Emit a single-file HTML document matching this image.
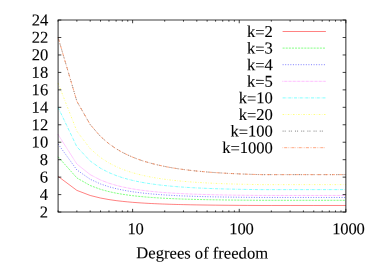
<!DOCTYPE html>
<html><head><meta charset="utf-8"><title>plot</title>
<style>
html,body{margin:0;padding:0;background:#fff;}
body{width:374px;height:262px;position:relative;overflow:hidden;}
svg{display:block;position:absolute;left:0;top:0;will-change:transform;}
svg text{text-rendering:geometricPrecision;font-family:"Liberation Serif",serif;font-size:16.6px;fill:#000;stroke:#000;stroke-width:0.1px;}
svg text.nm{letter-spacing:-0.18px;}
svg text.lg{letter-spacing:-0.1px;}
</style></head><body>
<svg width="374" height="262" viewBox="0 0 374 262">
<rect width="374" height="262" fill="#fff"/>
<path d="M58.10,176.40 L76.87,190.39 L90.19,195.47 L100.53,198.04 L108.97,199.58 L116.11,200.61 L122.29,201.34 L127.74,201.89 L132.62,202.32 L137.03,202.65 L141.06,202.93 L144.77,203.16 L148.20,203.36 L151.39,203.52 L154.38,203.67 L157.19,203.79 L159.84,203.90 L162.34,204.00 L164.71,204.09 L166.97,204.17 L169.13,204.24 L171.19,204.31 L173.16,204.37 L175.05,204.42 L176.86,204.47 L178.61,204.52 L180.29,204.56 L181.92,204.60 L183.49,204.64 L190.63,204.79 L196.81,204.90 L207.14,205.06 L215.58,205.16 L228.90,205.29 L239.24,205.37 L247.68,205.42 L261.00,205.48 L271.33,205.48 L290.10,205.48 L313.76,205.48 L345.85,205.48" fill="none" stroke="#ff0000" stroke-width="0.58" stroke-opacity="0.85"/>
<path d="M58.10,156.80 L76.87,177.93 L90.19,185.52 L100.53,189.34 L108.97,191.64 L116.11,193.16 L122.29,194.24 L127.74,195.04 L132.62,195.67 L137.03,196.17 L141.06,196.58 L144.77,196.92 L148.20,197.20 L151.39,197.45 L154.38,197.66 L157.19,197.84 L159.84,198.01 L162.34,198.15 L164.71,198.28 L166.97,198.40 L169.13,198.50 L171.19,198.60 L173.16,198.68 L175.05,198.76 L176.86,198.84 L178.61,198.90 L180.29,198.97 L181.92,199.02 L183.49,199.08 L190.63,199.30 L196.81,199.46 L207.14,199.69 L215.58,199.84 L228.90,200.03 L239.24,200.14 L247.68,200.21 L261.00,200.31 L271.33,200.31 L290.10,200.31 L313.76,200.31 L345.85,200.31" fill="none" stroke="#00ff00" stroke-width="0.58" stroke-opacity="0.85" stroke-dasharray="2.07 1.03"/>
<path d="M58.10,143.99 L76.87,169.95 L90.19,179.26 L100.53,183.96 L108.97,186.78 L116.11,188.65 L122.29,189.98 L127.74,190.97 L132.62,191.75 L137.03,192.36 L141.06,192.86 L144.77,193.28 L148.20,193.63 L151.39,193.93 L154.38,194.19 L157.19,194.42 L159.84,194.62 L162.34,194.80 L164.71,194.96 L166.97,195.10 L169.13,195.23 L171.19,195.35 L173.16,195.46 L175.05,195.56 L176.86,195.65 L178.61,195.73 L180.29,195.81 L181.92,195.88 L183.49,195.94 L190.63,196.22 L196.81,196.42 L207.14,196.70 L215.58,196.89 L228.90,197.12 L239.24,197.26 L247.68,197.35 L261.00,197.46 L271.33,197.46 L290.10,197.46 L313.76,197.46 L345.85,197.46" fill="none" stroke="#0000ff" stroke-width="0.58" stroke-opacity="0.85" stroke-dasharray="1.03 1.55"/>
<path d="M58.10,134.54 L76.87,164.04 L90.19,174.64 L100.53,179.99 L108.97,183.21 L116.11,185.34 L122.29,186.87 L127.74,188.00 L132.62,188.89 L137.03,189.59 L141.06,190.16 L144.77,190.64 L148.20,191.05 L151.39,191.39 L154.38,191.69 L157.19,191.95 L159.84,192.18 L162.34,192.39 L164.71,192.57 L166.97,192.74 L169.13,192.89 L171.19,193.02 L173.16,193.14 L175.05,193.26 L176.86,193.36 L178.61,193.46 L180.29,193.55 L181.92,193.63 L183.49,193.70 L190.63,194.02 L196.81,194.25 L207.14,194.58 L215.58,194.79 L228.90,195.06 L239.24,195.22 L247.68,195.32 L261.00,195.45 L271.33,195.45 L290.10,195.45 L313.76,195.45 L345.85,195.45" fill="none" stroke="#ff00ff" stroke-width="0.58" stroke-opacity="0.85" stroke-dasharray="0.52 0.78"/>
<path d="M58.10,107.42 L76.87,146.80 L90.19,161.03 L100.53,168.27 L108.97,172.63 L116.11,175.55 L122.29,177.63 L127.74,179.20 L132.62,180.41 L137.03,181.39 L141.06,182.19 L144.77,182.85 L148.20,183.41 L151.39,183.90 L154.38,184.32 L157.19,184.68 L159.84,185.01 L162.34,185.29 L164.71,185.55 L166.97,185.78 L169.13,185.99 L171.19,186.18 L173.16,186.36 L175.05,186.52 L176.86,186.66 L178.61,186.80 L180.29,186.92 L181.92,187.04 L183.49,187.15 L190.63,187.60 L196.81,187.93 L207.14,188.39 L215.58,188.70 L228.90,189.07 L239.24,189.30 L247.68,189.45 L261.00,189.64 L271.33,189.64 L290.10,189.64 L313.76,189.64 L345.85,189.64" fill="none" stroke="#00ffff" stroke-width="0.58" stroke-opacity="0.85" stroke-dasharray="3.10 1.03 0.52 1.03"/>
<path d="M58.10,83.16 L76.87,131.22 L90.19,148.67 L100.53,157.58 L108.97,162.99 L116.11,166.61 L122.29,169.22 L127.74,171.18 L132.62,172.72 L137.03,173.95 L141.06,174.96 L144.77,175.81 L148.20,176.53 L151.39,177.14 L154.38,177.68 L157.19,178.15 L159.84,178.57 L162.34,178.94 L164.71,179.27 L166.97,179.57 L169.13,179.84 L171.19,180.09 L173.16,180.31 L175.05,180.52 L176.86,180.71 L178.61,180.89 L180.29,181.05 L181.92,181.20 L183.49,181.34 L190.63,181.93 L196.81,182.36 L207.14,182.97 L215.58,183.38 L228.90,183.88 L239.24,184.18 L247.68,184.38 L261.00,184.63 L271.33,184.63 L290.10,184.63 L313.76,184.63 L345.85,184.63" fill="none" stroke="#ffff00" stroke-width="0.58" stroke-opacity="0.85" stroke-dasharray="1.55 1.55 0.52 1.55"/>
<path d="M58.10,37.53 L76.87,101.29 L90.19,124.55 L100.53,136.51 L108.97,143.80 L116.11,148.74 L122.29,152.31 L127.74,155.01 L132.62,157.14 L137.03,158.86 L141.06,160.28 L144.77,161.48 L148.20,162.49 L151.39,163.37 L154.38,164.14 L157.19,164.82 L159.84,165.42 L162.34,165.96 L164.71,166.44 L166.97,166.88 L169.13,167.28 L171.19,167.64 L173.16,167.97 L175.05,168.28 L176.86,168.57 L178.61,168.83 L180.29,169.07 L181.92,169.30 L183.49,169.51 L190.63,170.40 L196.81,171.06 L207.14,172.00 L215.58,172.63 L228.90,173.43 L239.24,173.90 L247.68,174.23 L261.00,174.63 L271.33,174.63 L290.10,174.63 L313.76,174.63 L345.85,174.63" fill="none" stroke="#000000" stroke-width="0.58" stroke-opacity="0.85" stroke-dasharray="1.03 1.03 1.03 3.10"/>
<path d="M58.10,37.53 L76.87,101.29 L90.19,124.55 L100.53,136.51 L108.97,143.80 L116.11,148.74 L122.29,152.31 L127.74,155.01 L132.62,157.14 L137.03,158.86 L141.06,160.28 L144.77,161.48 L148.20,162.49 L151.39,163.37 L154.38,164.14 L157.19,164.82 L159.84,165.42 L162.34,165.96 L164.71,166.44 L166.97,166.88 L169.13,167.28 L171.19,167.64 L173.16,167.97 L175.05,168.28 L176.86,168.57 L178.61,168.83 L180.29,169.07 L181.92,169.30 L183.49,169.51 L190.63,170.40 L196.81,171.06 L207.14,172.00 L215.58,172.63 L228.90,173.43 L239.24,173.90 L247.68,174.23 L261.00,174.63 L271.33,174.63 L290.10,174.63 L313.76,174.63 L345.85,174.63" fill="none" stroke="#fff" stroke-width="0.58" stroke-opacity="0.85" stroke-dasharray="0.52 1.03 3.10 1.03 0.52 1.03"/>
<path d="M58.10,37.53 L76.87,101.29 L90.19,124.55 L100.53,136.51 L108.97,143.80 L116.11,148.74 L122.29,152.31 L127.74,155.01 L132.62,157.14 L137.03,158.86 L141.06,160.28 L144.77,161.48 L148.20,162.49 L151.39,163.37 L154.38,164.14 L157.19,164.82 L159.84,165.42 L162.34,165.96 L164.71,166.44 L166.97,166.88 L169.13,167.28 L171.19,167.64 L173.16,167.97 L175.05,168.28 L176.86,168.57 L178.61,168.83 L180.29,169.07 L181.92,169.30 L183.49,169.51 L190.63,170.40 L196.81,171.06 L207.14,172.00 L215.58,172.63 L228.90,173.43 L239.24,173.90 L247.68,174.23 L261.00,174.63 L271.33,174.63 L290.10,174.63 L313.76,174.63 L345.85,174.63" fill="none" stroke="#ff4d00" stroke-width="0.58" stroke-opacity="0.85" stroke-dasharray="0.52 1.03 3.10 1.03 0.52 1.03"/>
<path d="M282.6,31.50 H325.9" fill="none" stroke="#ff0000" stroke-width="0.58" stroke-opacity="0.85"/>
<path d="M282.6,48.10 H325.9" fill="none" stroke="#00ff00" stroke-width="0.58" stroke-opacity="0.85" stroke-dasharray="2.07 1.03"/>
<path d="M282.6,64.70 H325.9" fill="none" stroke="#0000ff" stroke-width="0.58" stroke-opacity="0.85" stroke-dasharray="1.03 1.55"/>
<path d="M282.6,81.30 H325.9" fill="none" stroke="#ff00ff" stroke-width="0.58" stroke-opacity="0.85" stroke-dasharray="0.52 0.78"/>
<path d="M282.6,97.90 H325.9" fill="none" stroke="#00ffff" stroke-width="0.58" stroke-opacity="0.85" stroke-dasharray="3.10 1.03 0.52 1.03"/>
<path d="M282.6,114.50 H325.9" fill="none" stroke="#ffff00" stroke-width="0.58" stroke-opacity="0.85" stroke-dasharray="1.55 1.55 0.52 1.55"/>
<path d="M282.6,131.10 H325.9" fill="none" stroke="#000000" stroke-width="0.58" stroke-opacity="0.85" stroke-dasharray="1.03 1.03 1.03 3.10"/>
<path d="M282.6,147.70 H325.9" fill="none" stroke="#ff4d00" stroke-width="0.58" stroke-opacity="0.85" stroke-dasharray="0.52 1.03 3.10 1.03 0.52 1.03"/>
<path d="M58.1,20.05 H345.85 V212.05 H58.1 Z" fill="none" stroke="#000" stroke-width="1.1" stroke-opacity="0.75"/>
<path d="M58.1,212.05 h3.2 M345.85,212.05 h-3.2 M58.1,194.60 h3.2 M345.85,194.60 h-3.2 M58.1,177.14 h3.2 M345.85,177.14 h-3.2 M58.1,159.69 h3.2 M345.85,159.69 h-3.2 M58.1,142.23 h3.2 M345.85,142.23 h-3.2 M58.1,124.78 h3.2 M345.85,124.78 h-3.2 M58.1,107.32 h3.2 M345.85,107.32 h-3.2 M58.1,89.87 h3.2 M345.85,89.87 h-3.2 M58.1,72.41 h3.2 M345.85,72.41 h-3.2 M58.1,54.96 h3.2 M345.85,54.96 h-3.2 M58.1,37.50 h3.2 M345.85,37.50 h-3.2 M58.1,20.05 h3.2 M345.85,20.05 h-3.2 M58.10,212.05 v-1.6 M58.10,20.05 v1.6 M76.87,212.05 v-1.6 M76.87,20.05 v1.6 M90.19,212.05 v-1.6 M90.19,20.05 v1.6 M100.53,212.05 v-1.6 M100.53,20.05 v1.6 M108.97,212.05 v-1.6 M108.97,20.05 v1.6 M116.11,212.05 v-1.6 M116.11,20.05 v1.6 M122.29,212.05 v-1.6 M122.29,20.05 v1.6 M127.74,212.05 v-1.6 M127.74,20.05 v1.6 M132.62,212.05 v-3.2 M132.62,20.05 v3.2 M164.71,212.05 v-1.6 M164.71,20.05 v1.6 M183.49,212.05 v-1.6 M183.49,20.05 v1.6 M196.81,212.05 v-1.6 M196.81,20.05 v1.6 M207.14,212.05 v-1.6 M207.14,20.05 v1.6 M215.58,212.05 v-1.6 M215.58,20.05 v1.6 M222.72,212.05 v-1.6 M222.72,20.05 v1.6 M228.90,212.05 v-1.6 M228.90,20.05 v1.6 M234.36,212.05 v-1.6 M234.36,20.05 v1.6 M239.24,212.05 v-3.2 M239.24,20.05 v3.2 M271.33,212.05 v-1.6 M271.33,20.05 v1.6 M290.10,212.05 v-1.6 M290.10,20.05 v1.6 M303.42,212.05 v-1.6 M303.42,20.05 v1.6 M313.76,212.05 v-1.6 M313.76,20.05 v1.6 M322.20,212.05 v-1.6 M322.20,20.05 v1.6 M329.34,212.05 v-1.6 M329.34,20.05 v1.6 M335.52,212.05 v-1.6 M335.52,20.05 v1.6 M340.97,212.05 v-1.6 M340.97,20.05 v1.6 M345.85,212.05 v-3.2 M345.85,20.05 v3.2" fill="none" stroke="#000" stroke-width="0.75"/>
<g transform="rotate(0.03 187 131)"><text x="272.6" y="36.90" text-anchor="end" class="lg">k<tspan dy="0.7">=</tspan><tspan dy="-0.7">2</tspan></text>
<text x="272.6" y="53.50" text-anchor="end" class="lg">k<tspan dy="0.7">=</tspan><tspan dy="-0.7">3</tspan></text>
<text x="272.6" y="70.10" text-anchor="end" class="lg">k<tspan dy="0.7">=</tspan><tspan dy="-0.7">4</tspan></text>
<text x="272.6" y="86.70" text-anchor="end" class="lg">k<tspan dy="0.7">=</tspan><tspan dy="-0.7">5</tspan></text>
<text x="272.6" y="103.30" text-anchor="end" class="lg">k<tspan dy="0.7">=</tspan><tspan dy="-0.7">10</tspan></text>
<text x="272.6" y="119.90" text-anchor="end" class="lg">k<tspan dy="0.7">=</tspan><tspan dy="-0.7">20</tspan></text>
<text x="272.6" y="136.50" text-anchor="end" class="lg">k<tspan dy="0.7">=</tspan><tspan dy="-0.7">100</tspan></text>
<text x="272.6" y="153.10" text-anchor="end" class="lg">k<tspan dy="0.7">=</tspan><tspan dy="-0.7">1000</tspan></text>
<text x="48.2" y="217.50" text-anchor="end">2</text>
<text x="48.2" y="200.05" text-anchor="end">4</text>
<text x="48.2" y="182.59" text-anchor="end">6</text>
<text x="48.2" y="165.14" text-anchor="end">8</text>
<text x="48.2" y="147.68" text-anchor="end">10</text>
<text x="48.2" y="130.23" text-anchor="end">12</text>
<text x="48.2" y="112.77" text-anchor="end">14</text>
<text x="48.2" y="95.32" text-anchor="end">16</text>
<text x="48.2" y="77.86" text-anchor="end">18</text>
<text x="48.2" y="60.41" text-anchor="end">20</text>
<text x="48.2" y="42.95" text-anchor="end">22</text>
<text x="48.2" y="25.50" text-anchor="end">24</text>
<text x="135.62" y="234.2" text-anchor="middle" class="nm">10</text>
<text x="241.54" y="234.2" text-anchor="middle" class="nm">100</text>
<text x="348.45" y="234.2" text-anchor="middle" class="nm">1000</text>
<text x="202.3" y="258.4" text-anchor="middle">Degrees of freedom</text></g>
</svg>
</body></html>
